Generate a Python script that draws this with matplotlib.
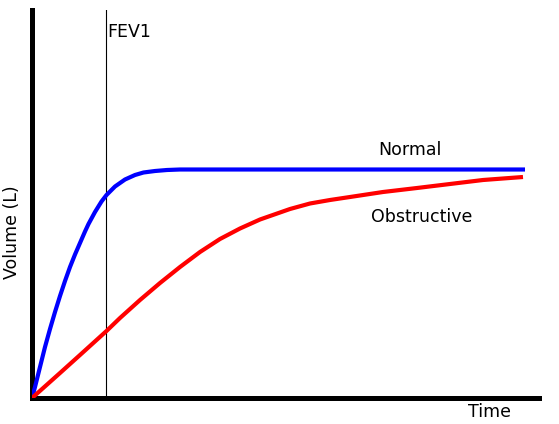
import matplotlib
matplotlib.use("Agg")
import matplotlib.pyplot as plt

# Data (time, volume)
normal_t = [0, 0.06, 0.16, 0.26, 0.36, 0.46, 0.56, 0.66, 0.76, 0.86, 0.96, 1.06, 1.13,
            1.26, 1.39, 1.49, 1.66, 1.86, 2.06, 2.23, 2.46, 2.70, 2.96, 9.86]
normal_v = [0, 0.22, 0.62, 1.02, 1.38, 1.72, 2.04, 2.34, 2.62, 2.87, 3.10, 3.33, 3.48,
            3.72, 3.93, 4.06, 4.23, 4.37, 4.46, 4.51, 4.54, 4.56, 4.57, 4.57]

obst_t = [0, 0.56, 0.96, 1.49, 1.76, 2.16, 2.56, 2.96, 3.36, 3.76, 4.16, 4.56, 5.16,
          5.56, 5.96, 6.36, 7.02, 7.70, 8.36, 9.02, 9.82]
obst_v = [0, 0.50, 0.86, 1.34, 1.60, 1.96, 2.30, 2.62, 2.92, 3.18, 3.39, 3.57, 3.78,
          3.89, 3.96, 4.02, 4.12, 4.20, 4.28, 4.36, 4.42]

fev1_t = 1.49

W, H = 559, 424
fig = plt.figure(figsize=(W / 100, H / 100), dpi=100)
ax = fig.add_axes([32 / W, (H - 398) / H, 507 / W, 388 / H])

ax.plot(normal_t, normal_v, color="#0000ff", lw=3, solid_capstyle="butt",
        solid_joinstyle="round", zorder=3)
ax.plot(obst_t, obst_v, color="#ff0000", lw=3, solid_capstyle="butt",
        solid_joinstyle="round", zorder=3)
ax.axvline(fev1_t, color="black", lw=0.8, zorder=2)

ax.set_xlim(0, 10.14)
ax.set_ylim(0, 7.76)
ax.set_xticks([])
ax.set_yticks([])
for s in ["top", "right"]:
    ax.spines[s].set_visible(False)
for s in ["left", "bottom"]:
    ax.spines[s].set_linewidth(3.6)
    ax.spines[s].set_color("black")

fs = 12.5
ax.text(fev1_t + 0.01, (398 - 32) / 50, "FEV1", fontsize=fs, ha="left", va="center")
ax.text((410 - 32) / 50, (398 - 150) / 50, "Normal", fontsize=fs, ha="center", va="center")
ax.text((422 - 32) / 50, (398 - 217) / 50, "Obstructive", fontsize=fs, ha="center", va="center")
fig.text(490 / W, 1 - 412 / H, "Time", fontsize=fs, ha="center", va="center")
fig.text(12 / W, 1 - 232 / H, "Volume (L)", fontsize=fs, ha="center", va="center", rotation=90)

fig.savefig("out.png", dpi=100)
